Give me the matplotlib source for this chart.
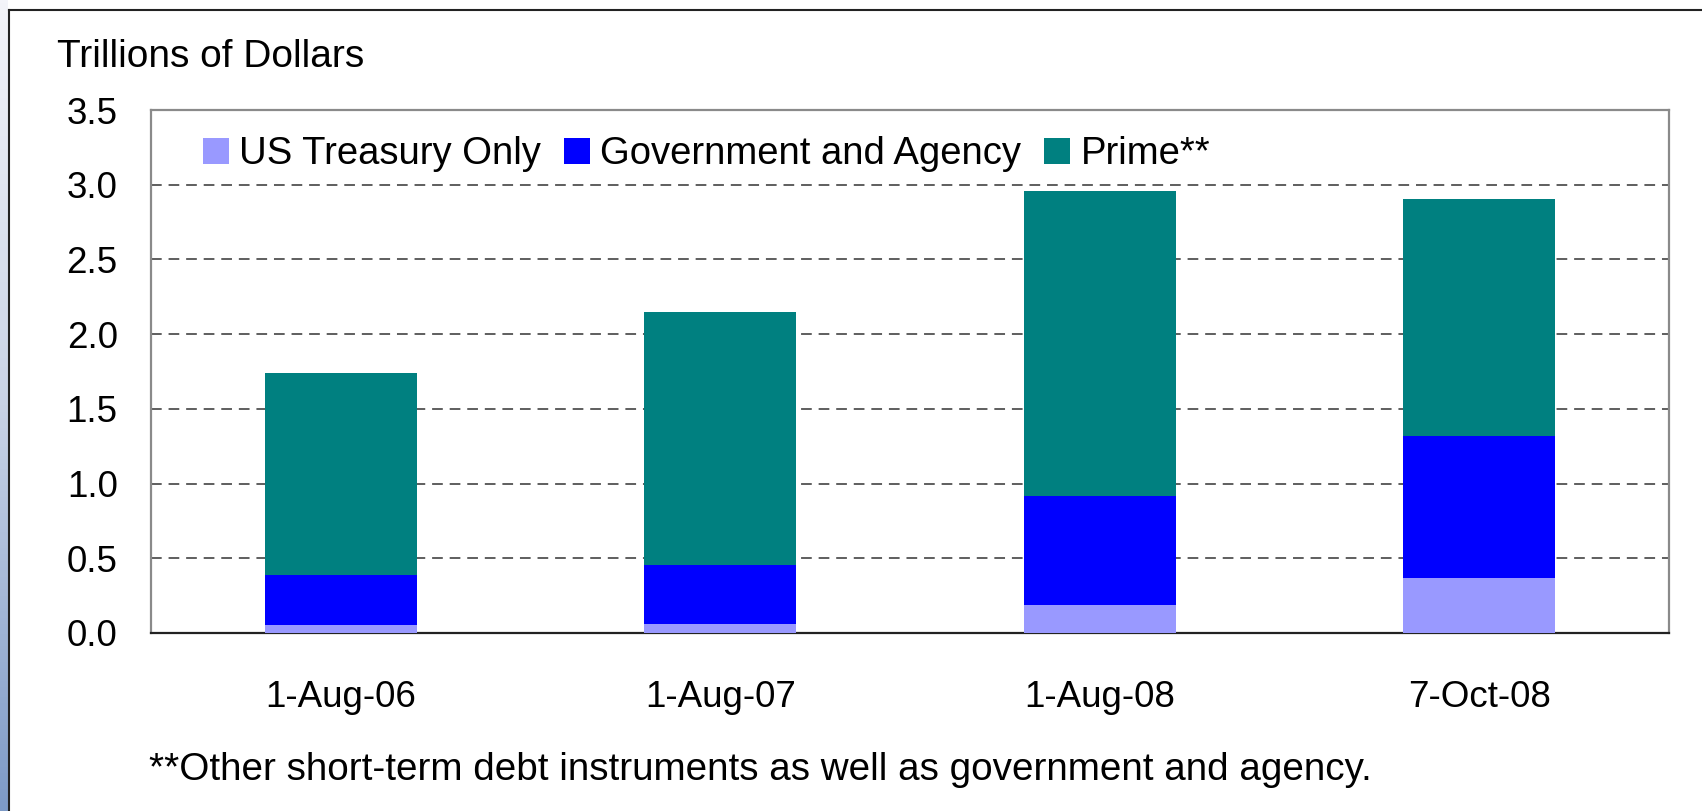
import numpy as np
import matplotlib
matplotlib.use("Agg")
import matplotlib.pyplot as plt
from matplotlib.lines import Line2D
from matplotlib.colors import LinearSegmentedColormap

plt.rcParams['font.family'] = ['Liberation Sans', 'DejaVu Sans']

# data (trillions of dollars)
dates = ['1-Aug-06', '1-Aug-07', '1-Aug-08', '7-Oct-08']
treasury = [0.056, 0.063, 0.190, 0.365]
gov_agency = [0.329, 0.390, 0.727, 0.955]
prime = [1.352, 1.694, 2.044, 1.587]

series_names = ['US Treasury Only', 'Government and Agency', 'Prime**']
colors = ['#9999FF', '#0000FF', '#008080']

W, H = 1702, 811
fig = plt.figure(figsize=(W / 100, H / 100), dpi=100)

# bluish strip on the left edge
strip = fig.add_axes([0, 0, 8 / W, 1])
grad = np.linspace(0, 1, 256).reshape(-1, 1)
cmap = LinearSegmentedColormap.from_list('strip', ['#f3f4f9', '#c9d3e6', '#7d9ac6'])
strip.imshow(grad, aspect='auto', cmap=cmap, extent=[0, 1, 0, 1], origin='upper')
strip.set_axis_off()

# outer frame
fig.add_artist(Line2D([8.5 / W, 8.5 / W], [0, 1 - 9.5 / H], color='#222222', lw=1.5))
fig.add_artist(Line2D([8.5 / W, 1], [1 - 9.5 / H, 1 - 9.5 / H], color='#222222', lw=1.5))

ax = fig.add_axes([151 / W, (H - 633) / H, 1518 / W, 523 / H])

x = np.arange(len(dates))
bottom = np.zeros(len(dates))
for vals, name, c in zip([treasury, gov_agency, prime], series_names, colors):
    ax.bar(x, vals, width=0.4, bottom=bottom, color=c, label=name, zorder=3)
    bottom += np.array(vals)

ax.set_xlim(-0.5, 3.5)
ax.set_ylim(0, 3.5)
ax.set_yticks(np.arange(0, 3.51, 0.5))
ax.set_yticklabels([f'{v:.1f}' for v in np.arange(0, 3.51, 0.5)])
ax.set_xticks(x)
ax.set_xticklabels(dates)
ax.tick_params(axis='y', length=0, pad=24, labelsize=26.5)
ax.tick_params(axis='x', length=0, pad=34, labelsize=26.5)

for v in np.arange(0.5, 3.01, 0.5):
    ax.axhline(v, color='#333333', lw=1.1, linestyle=(0, (7, 4.5)), zorder=1)

for side in ['left', 'top', 'right']:
    ax.spines[side].set_color('#8a8a8a')
    ax.spines[side].set_linewidth(1.6)
ax.spines['bottom'].set_color('#222222')
ax.spines['bottom'].set_linewidth(1.6)

ax.legend(loc='upper left', bbox_to_anchor=(52 / 1518, 0.950), ncol=3, frameon=False,
          fontsize=27.5, handlelength=0.67, handleheight=0.67, handletextpad=0.28,
          columnspacing=0.6, borderpad=0, borderaxespad=0)

fig.text(57 / W, (H - 67) / H, 'Trillions of Dollars', fontsize=28, va='baseline', ha='left')
fig.text(149 / W, (H - 780) / H,
         '**Other short-term debt instruments as well as government and agency.',
         fontsize=27.8, va='baseline', ha='left')

fig.savefig('out.png', dpi=100)
